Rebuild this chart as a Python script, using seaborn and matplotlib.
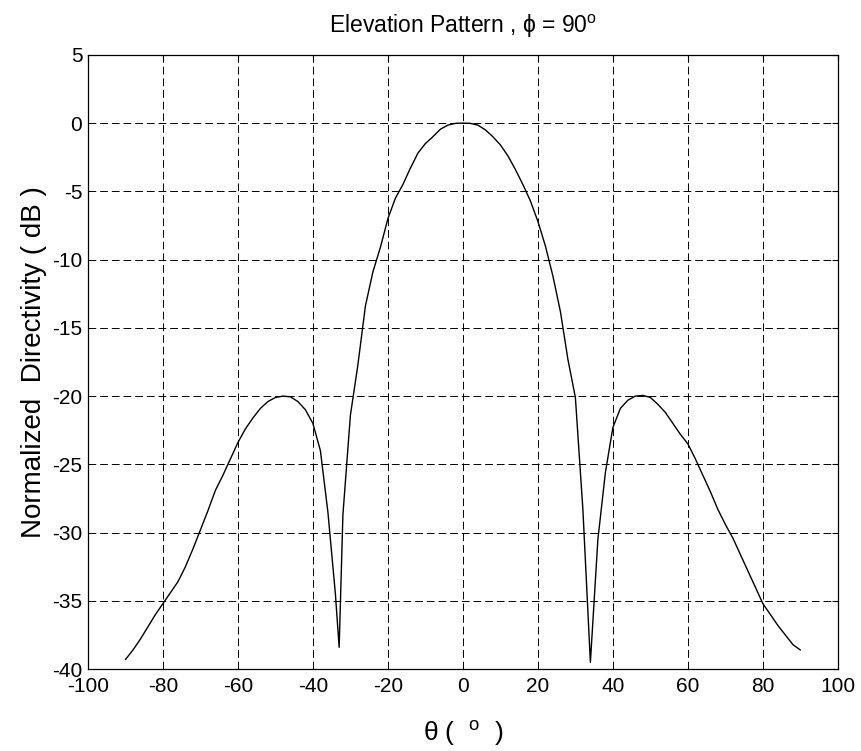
import numpy as np
import pandas as pd
import matplotlib
matplotlib.use("Agg")
import matplotlib.pyplot as plt
import seaborn as sns

# Elevation cut of the normalized directivity pattern (phi = 90 deg)
theta_deg = [-90, -88, -86, -84, -82, -80, -78, -76, -74, -72, -70, -68, -66, -64,
             -62, -60, -58, -56, -54, -52, -50, -48, -46, -44, -42, -40, -38, -36,
             -34, -33, -32, -30, -28, -26, -24, -22, -20, -18, -16, -14, -12, -10,
             -8, -6, -4, -2, 0, 2, 4, 6, 8, 10, 12, 14, 16, 18, 20, 22, 24, 26, 28,
             30, 32, 34, 36, 38, 40, 42, 44, 46, 48, 50, 52, 54, 56, 58, 60, 62, 64,
             66, 68, 70, 72, 74, 76, 78, 80, 82, 84, 86, 88, 90]
directivity_db = [-39.3, -38.6, -37.8, -36.9, -36.0, -35.2, -34.4, -33.6, -32.5, -31.2,
                  -29.8, -28.4, -26.9, -25.8, -24.6, -23.4, -22.4, -21.6, -20.9, -20.4,
                  -20.1, -20.0, -20.05, -20.4, -21.0, -22.0, -24.0, -28.5, -34.5, -38.4,
                  -28.7, -21.4, -17.7, -13.4, -10.9, -9.1, -7.0, -5.5, -4.5, -3.3, -2.2,
                  -1.5, -1.0, -0.45, -0.15, -0.02, 0.0, -0.02, -0.15, -0.5, -1.0, -1.6,
                  -2.4, -3.4, -4.5, -5.7, -7.2, -9.0, -11.2, -13.8, -17.3, -20.1, -28.3,
                  -39.5, -30.5, -25.6, -22.3, -20.9, -20.3, -20.0, -19.95, -20.1, -20.6,
                  -21.2, -22.0, -22.8, -23.5, -24.6, -25.8, -27.0, -28.3, -29.4, -30.4,
                  -31.6, -32.8, -34.0, -35.2, -36.0, -36.8, -37.5, -38.2, -38.6]

x_ticks = [-100, -80, -60, -40, -20, 0, 20, 40, 60, 80, 100]
y_ticks = [5, 0, -5, -10, -15, -20, -25, -30, -35, -40]

df = pd.DataFrame({"theta": theta_deg, "D": directivity_db})

sns.set_theme(style="white")
plt.rcParams["font.family"] = ["Liberation Sans", "DejaVu Sans"]
plt.rcParams["mathtext.fontset"] = "custom"
plt.rcParams["mathtext.rm"] = "Liberation Sans"
plt.rcParams["mathtext.it"] = "Liberation Sans:italic"

fig = plt.figure(figsize=(8.62, 7.51), dpi=100)
ax = fig.add_axes([0.102, 0.109, 0.870, 0.818])

sns.lineplot(data=df, x="theta", y="D", ax=ax, color="black", linewidth=1.0,
             estimator=None, sort=False)

ax.set_xlim(-100, 100)
ax.set_ylim(-40, 5)
ax.set_xticks(x_ticks)
ax.set_yticks(y_ticks)
ax.set_xticklabels([str(t) for t in x_ticks])
ax.set_yticklabels([str(t) for t in y_ticks])

ax.grid(True, color="black", linestyle=(0, (8, 4)), linewidth=0.7)
ax.tick_params(direction="in", length=4, width=0.8, colors="black",
               labelsize=15, top=True, right=True)
ax.tick_params(axis="x", pad=6)
ax.tick_params(axis="y", pad=4)
for s in ax.spines.values():
    s.set_color("black")
    s.set_linewidth(0.9)

ax.set_title("Elevation Pattern , ϕ = 90$^{\\mathrm{o}}$", fontsize=16.5, pad=16,
             color="black")
ax.set_xlabel("θ (  $^{\\mathrm{o}}$  )", fontsize=19, labelpad=16, color="black")
ax.set_ylabel("Normalized  Directivity ( dB )", fontsize=20, labelpad=4,
              color="black")

fig.savefig("out.png", dpi=100, facecolor="white")
